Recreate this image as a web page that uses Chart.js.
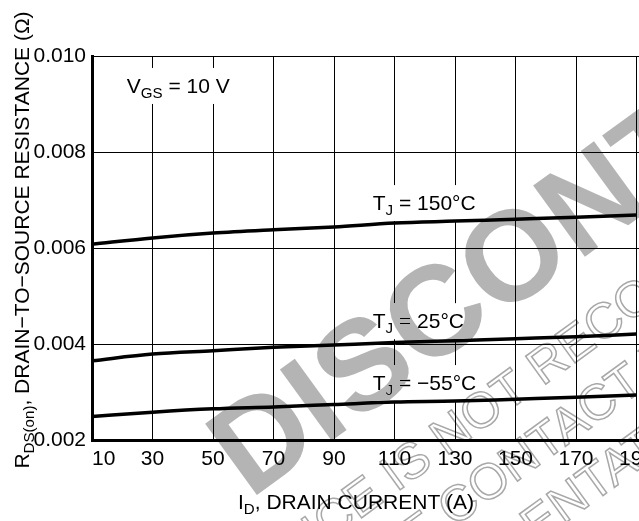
<!DOCTYPE html>
<html>
<head>
<meta charset="utf-8">
<script src="https://cdn.jsdelivr.net/npm/chart.js@4/dist/chart.umd.min.js"></script>
<style>
html, body { margin: 0; padding: 0; background: #fff; overflow: hidden; width: 639px; height: 521px; }
#wrap { position: absolute; left: 0; top: 0; }
</style>
</head>
<body>
<div id="wrap"><canvas id="chart" width="704" height="521"></canvas></div>
<script>
// drain current (A) and R_DS(on) (ohm)
const currentA = [10, 30, 50, 70, 90, 110, 130, 150, 170, 190];
const rdsT150 = [0.00608, 0.00621, 0.00631, 0.00638, 0.00644, 0.00652, 0.00656, 0.00660, 0.00664, 0.00669];
const rdsT25 = [0.00365, 0.00379, 0.00386, 0.00393, 0.00398, 0.00403, 0.00407, 0.00411, 0.00415, 0.00421];
const rdsTm55 = [0.00249, 0.00258, 0.00265, 0.00269, 0.00274, 0.00279, 0.00281, 0.00285, 0.00289, 0.00294];

const xTickValues = [10, 30, 50, 70, 90, 110, 130, 150, 170, 190, 210];
const yTickValues = [0.002, 0.004, 0.006, 0.008, 0.010];

const FONT = '"Liberation Sans", Arial, Helvetica, sans-serif';

// [text, isSubscript]
const yTitle = [['R', 0], ['DS(on)', 1], [', DRAIN\u2212TO\u2212SOURCE RESISTANCE (\u03A9)', 0]];
const xTitle = [['I', 0], ['D', 1], [', DRAIN CURRENT (A)', 0]];

// annotations, anchored in data units (current, resistance)
const notes = [
    { parts: [['V', 0], ['GS', 1], [' = 10 V', 0]], at: [21.5, 0.00923] },
    { parts: [['T', 0], ['J', 1], [' = 150\u00B0C', 0]], at: [102.8, 0.00679] },
    { parts: [['T', 0], ['J', 1], [' = 25\u00B0C', 0]], at: [102.8, 0.00433] },
    { parts: [['T', 0], ['J', 1], [' = \u221255\u00B0C', 0]], at: [102.8, 0.00304] }
];

function richWidth(ctx, parts, size) {
    let w = 0;
    for (const [t, sub] of parts) {
        ctx.font = (sub ? size * 0.72 : size) + 'px ' + FONT;
        w += ctx.measureText(t).width;
    }
    return w;
}

function drawRich(ctx, parts, x, y, size) {
    let cx = x;
    ctx.textBaseline = 'alphabetic';
    ctx.textAlign = 'left';
    for (const [t, sub] of parts) {
        ctx.font = (sub ? size * 0.72 : size) + 'px ' + FONT;
        ctx.fillText(t, cx, sub ? y + size * 0.24 : y);
        cx += ctx.measureText(t).width;
    }
}

const textPlugin = {
    id: 'texts',
    beforeDatasetsDraw(chart) {
        const ctx = chart.ctx
        const xs = chart.scales.x, ys = chart.scales.y
        ctx.save()
        for (const n of notes) {
            const px = xs.getPixelForValue(n.at[0])
            const py = ys.getPixelForValue(n.at[1])
            const w = richWidth(ctx, n.parts, 21)
            ctx.fillStyle = '#fff'
            ctx.fillRect(px - 7, py - 25, w + 14, 36)
            ctx.fillStyle = '#000'
            drawRich(ctx, n.parts, px, py, 21)
        }
        ctx.restore()
    },
    afterDraw(chart) {
        const ctx = chart.ctx
        ctx.save()
        ctx.fillStyle = '#000'
        // x title
        const wx = richWidth(ctx, xTitle, 21)
        drawRich(ctx, xTitle, 356 - wx / 2, 509, 21)
        // y title, rotated
        const wy = richWidth(ctx, yTitle, 21)
        ctx.translate(29, 240)
        ctx.rotate(-Math.PI / 2)
        drawRich(ctx, yTitle, -wy / 2, 0, 21)
        ctx.restore()

        // watermark over the page
        ctx.save()
        ctx.globalCompositeOperation = 'darken'
        ctx.translate(250, 500)
        ctx.rotate(-36 * Math.PI / 180)
        ctx.fillStyle = '#b4b4b4'
        ctx.font = 'bold 128px ' + FONT
        ctx.fillText('DISCONTINUED', 0, 0)
        ctx.strokeStyle = '#a8a8a8'
        ctx.lineWidth = 1.5
        ctx.font = '50px ' + FONT
        ctx.strokeText('THIS DEVICE IS NOT RECOMMENDED FOR NEW DESIGN', -205, 80)
        ctx.strokeText('PLEASE CONTACT YOUR ON SEMICONDUCTOR', -60, 142)
        ctx.strokeText('REPRESENTATIVE FOR INFORMATION', 0, 204)
        ctx.restore()
    }
}

const toPoints = arr => arr.map((r, i) => ({ x: currentA[i], y: r }))

const lineStyle = {
    borderColor: '#000',
    borderWidth: 3.5,
    pointRadius: 0,
    fill: false,
    tension: 0.4,
    cubicInterpolationMode: 'monotone'
}

new Chart(document.getElementById('chart').getContext('2d'), {
    type: 'line',
    data: {
        datasets: [
            Object.assign({ label: 'TJ = 150°C', data: toPoints(rdsT150) }, lineStyle),
            Object.assign({ label: 'TJ = 25°C', data: toPoints(rdsT25) }, lineStyle),
            Object.assign({ label: 'TJ = -55°C', data: toPoints(rdsTm55) }, lineStyle)
        ]
    },
    options: {
        responsive: false,
        animation: false,
        devicePixelRatio: 1,
        layout: { padding: { top: 56, left: 0, right: 2, bottom: 0 } },
        plugins: { legend: { display: false }, tooltip: { enabled: false } },
        scales: {
            x: {
                type: 'linear',
                min: 10,
                max: 210,
                afterBuildTicks: s => { s.ticks = xTickValues.map(v => ({ value: v })) },
                afterFit: s => { s.height = 81 },
                grid: { color: '#000', lineWidth: 1, drawTicks: false },
                border: { display: true, color: '#000', width: 3 },
                ticks: {
                    color: '#000',
                    font: { family: FONT, size: 21 },
                    padding: 7,
                    align: 'inner',
                    maxRotation: 0,
                    autoSkip: false
                }
            },
            y: {
                min: 0.002,
                max: 0.010,
                afterBuildTicks: s => { s.ticks = yTickValues.map(v => ({ value: v })) },
                afterFit: s => { s.width = 92 },
                grid: { color: '#000', lineWidth: 1, drawTicks: false },
                border: { display: true, color: '#000', width: 3 },
                ticks: {
                    color: '#000',
                    font: { family: FONT, size: 21 },
                    padding: 6,
                    callback: v => v.toFixed(3)
                }
            }
        }
    },
    plugins: [textPlugin]
})
</script>
</body>
</html>
